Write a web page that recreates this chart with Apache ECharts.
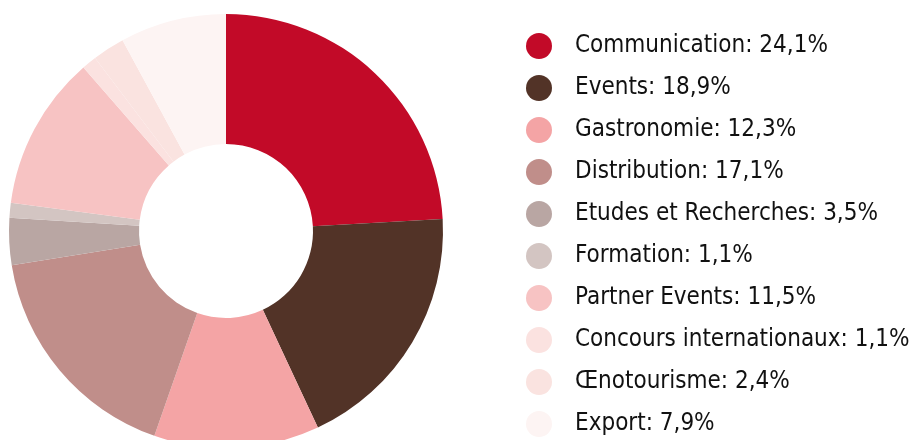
<!DOCTYPE html>
<html><head><meta charset="utf-8">
<script src="https://cdn.jsdelivr.net/npm/echarts@6/dist/echarts.min.js"></script>
<style>html,body{margin:0;padding:0;background:#fff}#c{width:919px;height:440px}</style>
</head><body><div id="c"></div>
<script>
const categories = ["Communication","Events","Gastronomie","Distribution","Etudes et Recherches","Formation","Partner Events","Concours internationaux","Œnotourisme","Export"];
const values = [24.1,18.9,12.3,17.1,3.5,1.1,11.5,1.1,2.4,7.9];
const valueLabels = ["24,1%","18,9%","12,3%","17,1%","3,5%","1,1%","11,5%","1,1%","2,4%","7,9%"];
const colors = ["#c20a28","#523327","#f4a4a5","#c08e8a","#b9a6a3","#d3c5c2","#f7c3c3","#fbe2e0","#fae3e0","#fdf4f3"];

const chart = echarts.init(document.getElementById('c'), null, {renderer:'canvas'});
chart.setOption({
  animation:false,
  color: colors,
  legend:{
    orient:'vertical', left:526, top:33, height:407, padding:0,
    icon:'circle', itemWidth:26, itemHeight:26, itemGap:16,
    textStyle:{fontFamily:'DejaVu Sans Condensed', fontSize:24, color:'#111', padding:[0,0,0,18]},
    formatter: n => n + ': ' + valueLabels[categories.indexOf(n)],
    selectedMode:false
  },
  series:[{
    type:'pie', center:[226,231], radius:[87,217], startAngle:90, clockwise:true,
    label:{show:false}, labelLine:{show:false}, silent:true,
    itemStyle:{borderWidth:0},
    data: categories.map((c,i)=>({name:c, value:values[i]}))
  }]
});
</script></body></html>
